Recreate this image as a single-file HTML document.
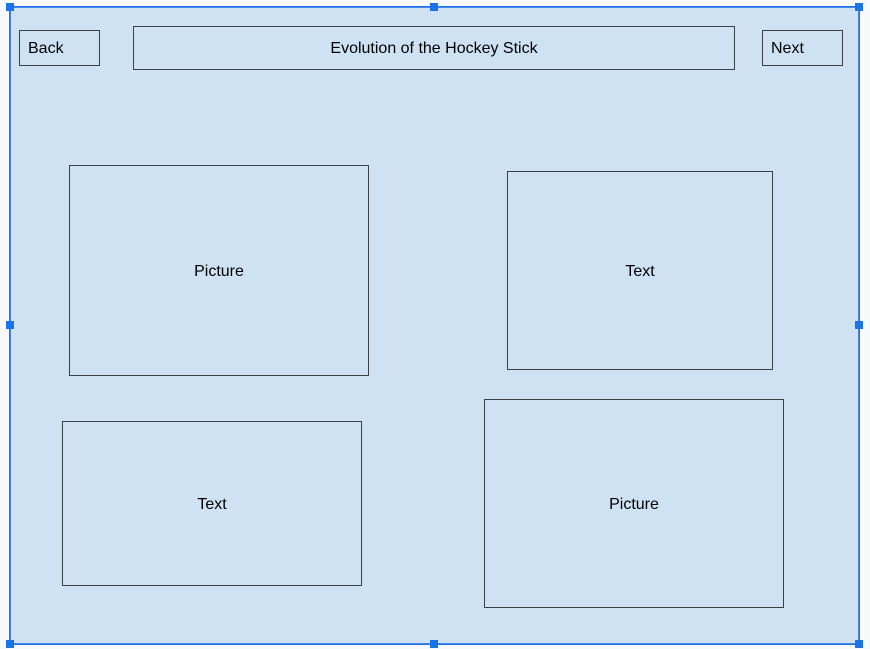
<!DOCTYPE html>
<html><head><style>
body{margin:0;width:870px;height:649px;background:#f8f9fa;position:relative;overflow:hidden;font-family:"Liberation Sans",Arial,sans-serif;}
.bg{position:absolute;left:10px;top:7px;width:849px;height:637px;background:#cfe2f3;border:1px solid #4a86e8;box-sizing:border-box;box-shadow:0 0 0 1px #1a73e8;}
.b{position:absolute;border:1px solid #3c4043;box-sizing:border-box;display:flex;align-items:center;justify-content:center;font-size:16px;color:#000;padding-top:2px;}
.h{position:absolute;width:8px;height:8px;background:#1a73e8;}
</style></head><body>
<div class="bg"></div>
<div class="b" style="left:19px;top:30px;width:81px;height:36px;justify-content:flex-start;padding-left:8px">Back</div>
<div class="b" style="left:133px;top:26px;width:602px;height:44px">Evolution of the Hockey Stick</div>
<div class="b" style="left:762px;top:30px;width:81px;height:36px;justify-content:flex-start;padding-left:8px">Next</div>
<div class="b" style="left:69px;top:165px;width:300px;height:211px">Picture</div>
<div class="b" style="left:507px;top:171px;width:266px;height:199px">Text</div>
<div class="b" style="left:62px;top:421px;width:300px;height:165px">Text</div>
<div class="b" style="left:484px;top:399px;width:300px;height:209px">Picture</div>
<div class="h" style="left:6px;top:3px"></div>
<div class="h" style="left:430px;top:3px"></div>
<div class="h" style="left:855px;top:3px"></div>
<div class="h" style="left:6px;top:321px"></div>
<div class="h" style="left:855px;top:321px"></div>
<div class="h" style="left:6px;top:640px"></div>
<div class="h" style="left:430px;top:640px"></div>
<div class="h" style="left:855px;top:640px"></div>
</body></html>
